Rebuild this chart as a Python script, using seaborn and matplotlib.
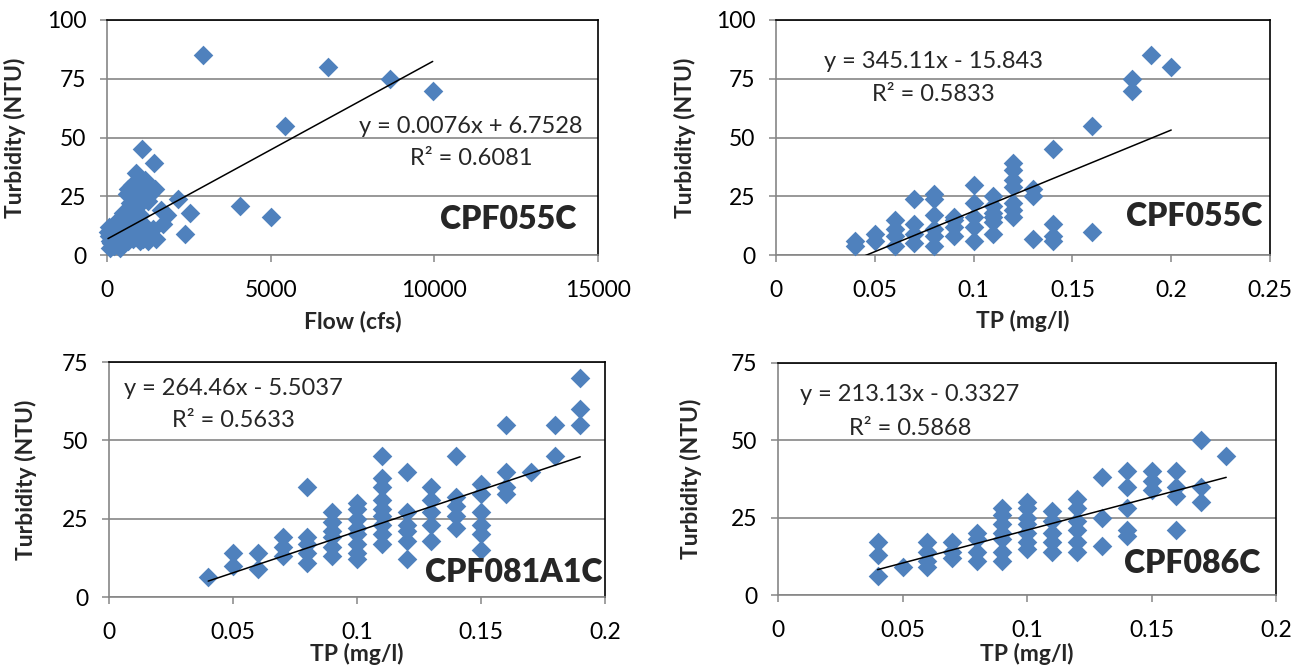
import matplotlib
matplotlib.use("Agg")
import matplotlib.pyplot as plt
import seaborn as sns
import pandas as pd
import numpy as np
from matplotlib.ticker import FuncFormatter

sns.set_theme(style="white")
plt.rcParams["font.family"] = ["Lato", "DejaVu Sans"]

# ---------------- data ----------------
# Panel A: CPF055C turbidity vs flow
flow_cfs = [2930, 6750, 8650, 9950, 5450, 4050, 5000,
            1080, 1430, 900, 1160, 640, 1470, 850, 1250, 2170, 2530, 1710, 2380, 1830, 1300, 1000, 750,
            50, 80, 100, 120, 150, 150, 200, 200, 250, 250, 300, 300, 350, 350, 400, 400, 450, 500, 500,
            500, 550, 600, 600, 650, 700, 700, 750, 800, 800, 850, 900, 900, 950, 1000, 1000, 1050, 1100,
            1100, 1200, 1250, 1300, 1400, 1500, 100, 30, 60, 400, 700, 600, 800, 1000, 1200, 1100, 900,
            700, 500, 1650]
turb_flow = [85, 80, 75, 70, 55, 21, 16,
             45, 39, 35, 32, 28, 28, 25, 23, 24, 18, 13, 9, 17, 26, 29, 30,
             8, 6, 10, 5, 7, 12, 4, 9, 6, 13, 8, 11, 5, 15, 7, 10, 12, 6, 9,
             14, 8, 11, 16, 6, 9, 13, 18, 7, 11, 15, 8, 20, 12, 6, 17, 9, 7,
             13, 10, 6, 8, 11, 7, 3, 10, 12, 3, 22, 26, 28, 30, 29, 24, 25,
             17, 18, 19]

# Panel B: CPF055C turbidity vs TP
tp_055 = [0.04, 0.04, 0.05, 0.05, 0.06, 0.06, 0.06, 0.06, 0.07, 0.07, 0.07, 0.07,
          0.08, 0.08, 0.08, 0.08, 0.08, 0.08, 0.09, 0.09, 0.09, 0.09,
          0.10, 0.10, 0.10, 0.10, 0.10, 0.11, 0.11, 0.11, 0.11, 0.11, 0.11,
          0.12, 0.12, 0.12, 0.12, 0.12, 0.12, 0.12, 0.13, 0.13, 0.13,
          0.14, 0.14, 0.14, 0.14, 0.16, 0.16, 0.18, 0.18, 0.19, 0.20]
turb_055 = [4, 6, 6, 9, 4, 8, 11, 15, 5, 9, 13, 24,
            4, 8, 11, 17, 24, 26, 8, 12, 15, 16,
            6, 12, 16, 22, 30, 9, 14, 16, 18, 21, 25,
            16, 19, 22, 29, 32, 36, 39, 7, 25, 28,
            6, 8, 13, 45, 10, 55, 70, 75, 85, 80]

# Panel C: CPF081A1C turbidity vs TP
tp_081 = [0.04, 0.05, 0.05, 0.06, 0.06, 0.07, 0.07, 0.07,
          0.08, 0.08, 0.08, 0.08, 0.08,
          0.09, 0.09, 0.09, 0.09, 0.09, 0.09,
          0.10, 0.10, 0.10, 0.10, 0.10, 0.10, 0.10, 0.10,
          0.11, 0.11, 0.11, 0.11, 0.11, 0.11, 0.11, 0.11, 0.11,
          0.12, 0.12, 0.12, 0.12, 0.12, 0.12,
          0.13, 0.13, 0.13, 0.13, 0.13,
          0.14, 0.14, 0.14, 0.14, 0.14,
          0.15, 0.15, 0.15, 0.15, 0.15, 0.15,
          0.16, 0.16, 0.16, 0.16, 0.17, 0.18, 0.18, 0.19, 0.19, 0.19]
turb_081 = [6.5, 10, 14, 9, 14, 13, 16, 19,
            11, 14, 17, 19, 35,
            13, 16, 19, 21, 24, 27,
            12, 14, 17, 20, 22, 25, 28, 30,
            17, 20, 23, 26, 28, 31, 35, 38, 45,
            12, 18, 21, 23, 27, 40,
            18, 23, 27, 31, 35,
            22, 26, 29, 32, 45,
            15, 20, 23, 27, 33, 36,
            33, 35, 40, 55, 40, 45, 55, 55, 60, 70]

# Panel D: CPF086C turbidity vs TP
tp_086 = [0.04, 0.04, 0.04, 0.05, 0.06, 0.06, 0.06, 0.06, 0.07, 0.07, 0.07,
          0.08, 0.08, 0.08, 0.08,
          0.09, 0.09, 0.09, 0.09, 0.09, 0.09, 0.09,
          0.10, 0.10, 0.10, 0.10, 0.10, 0.10, 0.10,
          0.11, 0.11, 0.11, 0.11, 0.11,
          0.12, 0.12, 0.12, 0.12, 0.12, 0.12,
          0.13, 0.13, 0.13, 0.14, 0.14, 0.14, 0.14, 0.14,
          0.15, 0.15, 0.15, 0.16, 0.16, 0.16, 0.16, 0.17, 0.17, 0.17, 0.18]
turb_086 = [6, 13, 17, 9, 9, 11, 14, 17, 12, 14, 17,
            11, 14, 18, 20,
            11, 14, 18, 20, 23, 26, 28,
            15, 17, 20, 23, 25, 28, 30,
            14, 17, 20, 24, 27,
            14, 17, 21, 24, 28, 31,
            16, 25, 38, 19, 21, 28, 35, 40,
            34, 37, 40, 21, 32, 35, 40, 30, 35, 50, 45]

# trendline coefficients as printed on the chart
slopes = [0.0076, 345.11, 264.46, 213.13]
intercepts = [6.7528, -15.843, -5.5037, -0.3327]
r_squared = [0.6081, 0.5833, 0.5633, 0.5868]
site_names = ["CPF055C", "CPF055C", "CPF081A1C", "CPF086C"]
x_labels = ["Flow (cfs)", "TP (mg/l)", "TP (mg/l)", "TP (mg/l)"]
y_label = "Turbidity (NTU)"

# ---------------- layout ----------------
W, H = 1302, 669
fig = plt.figure(figsize=(W / 100, H / 100), dpi=100)

def frac(x0, x1, y0, y1):
    return [x0 / W, 1 - y1 / H, (x1 - x0) / W, (y1 - y0) / H]

panels = [
    dict(rect=frac(107, 598, 20, 255), x=flow_cfs, y=turb_flow, xlim=(0, 15000), xt=[0, 5000, 10000, 15000],
         ylim=(0, 100), yt=[0, 25, 50, 75, 100], eq=(11120, 54.5), r2=(11120, 40.9), name=(12250, 15.3),
         ylc=-0.165, xlc=-0.235),
    dict(rect=frac(776, 1270, 20, 255), x=tp_055, y=turb_055, xlim=(0, 0.25), xt=[0, 0.05, 0.1, 0.15, 0.2, 0.25],
         ylim=(0, 100), yt=[0, 25, 50, 75, 100], eq=(0.0795, 82.2), r2=(0.0795, 68.1), name=(0.2115, 16.2),
         ylc=-0.162, xlc=-0.235),
    dict(rect=frac(109, 605, 362, 597), x=tp_081, y=turb_081, xlim=(0, 0.2), xt=[0, 0.05, 0.1, 0.15, 0.2],
         ylim=(0, 75), yt=[0, 25, 50, 75], eq=(0.05, 66.6), r2=(0.05, 56.3), name=(0.163, 7.8),
         ylc=-0.145, xlc=-0.195),
    dict(rect=frac(778, 1276, 363, 595), x=tp_086, y=turb_086, xlim=(0, 0.2), xt=[0, 0.05, 0.1, 0.15, 0.2],
         ylim=(0, 75), yt=[0, 25, 50, 75], eq=(0.053, 64.7), r2=(0.053, 53.9), name=(0.1663, 10.2),
         ylc=-0.152, xlc=-0.205),
]

blue = "#4F81BD"
gray = "#868686"
fmt = FuncFormatter(lambda v, p: f"{v:g}")

for i, p in enumerate(panels):
    ax = fig.add_axes(p["rect"])
    df = pd.DataFrame({"x": p["x"], "y": p["y"]})
    sns.scatterplot(data=df, x="x", y="y", ax=ax, marker="D", s=100, color=blue,
                    linewidth=0, zorder=3, clip_on=False)
    xs = np.array([min(p["x"]), max(p["x"])])
    line_df = pd.DataFrame({"x": xs, "y": slopes[i] * xs + intercepts[i]})
    sns.lineplot(data=line_df, x="x", y="y", ax=ax, color="black", linewidth=1.1, zorder=4)

    ax.set_xlim(*p["xlim"])
    ax.set_ylim(*p["ylim"])
    ax.set_xticks(p["xt"])
    ax.set_yticks(p["yt"])
    ax.xaxis.set_major_formatter(fmt)
    ax.yaxis.set_major_formatter(fmt)
    ax.tick_params(axis="both", direction="out", length=5, width=1.1, color=gray,
                   labelsize=16.5, labelcolor="black")
    ax.tick_params(axis="x", pad=13)
    ax.tick_params(axis="y", pad=10)
    ax.tick_params(left=True, bottom=True)
    ax.yaxis.grid(True, color=gray, linewidth=1.2, zorder=0)
    ax.xaxis.grid(False)
    ax.set_axisbelow(True)
    for s in ["left", "bottom"]:
        ax.spines[s].set_color(gray)
        ax.spines[s].set_linewidth(1.2)
    for s in ["top", "right"]:
        ax.spines[s].set_color("black")
        ax.spines[s].set_linewidth(1.2)

    ax.set_xlabel(x_labels[i], fontsize=16.5, fontweight="bold")
    ax.set_ylabel(y_label, fontsize=16.5, fontweight="bold")
    ax.yaxis.set_label_coords(p["ylc"], 0.5)
    ax.xaxis.set_label_coords(0.5, p["xlc"])

    b = intercepts[i]
    sign = "+" if b >= 0 else "-"
    ax.text(*p["eq"], f"y = {slopes[i]}x {sign} {abs(b)}", fontsize=17, ha="center", va="center", zorder=5)
    ax.text(*p["r2"], f"R² = {r_squared[i]}", fontsize=17, ha="center", va="center", zorder=5)
    ax.text(*p["name"], site_names[i], fontsize=23, fontweight="heavy", ha="center", va="center", zorder=5)

fig.savefig("out.png", dpi=100)
